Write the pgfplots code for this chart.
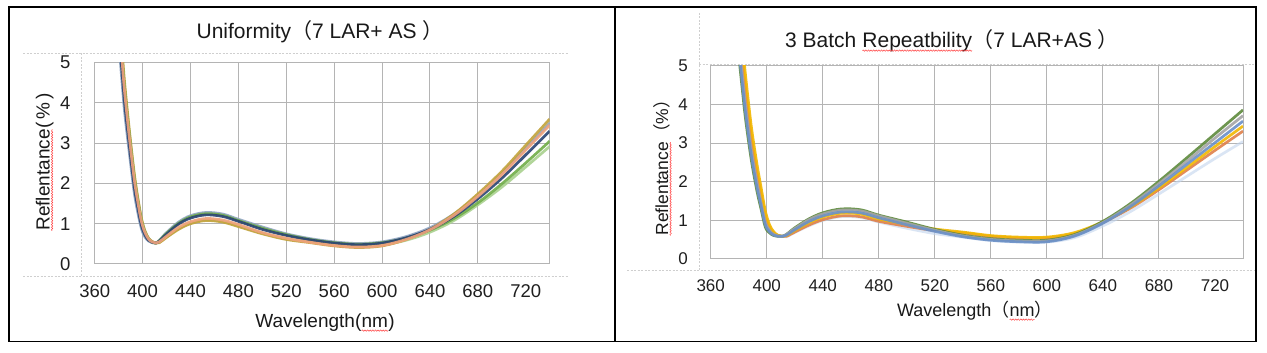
\documentclass[border=0pt]{standalone}
\usepackage{pgfplots}
\pgfplotsset{compat=1.18}
\usepackage{pgfplotstable}
\usepackage{fontspec}
\setmainfont{Liberation Sans}
\newfontfamily\cjk{Noto Sans CJK SC}
\usetikzlibrary{decorations.pathmorphing}

\definecolor{gridgray}{HTML}{B4B4B4}
\definecolor{dashgray}{HTML}{CFCFCF}
\definecolor{lgreen}{HTML}{A9D18E}
\definecolor{mgreen}{HTML}{70AD47}
\definecolor{olive}{HTML}{C2A23A}
\definecolor{grayblue}{HTML}{8EA3C2}
\definecolor{navy}{HTML}{2A4373}
\definecolor{salmon}{HTML}{F0A27C}
\definecolor{dkgreen}{HTML}{5E8A3C}
\definecolor{xgray}{HTML}{A5A5A5}
\definecolor{xblue}{HTML}{6A90C8}
\definecolor{gold}{HTML}{F2B800}
\definecolor{xorange}{HTML}{E0804A}
\definecolor{lblue}{HTML}{C2D5EE}

\newcommand\squig[1]{\tikz[baseline=(sq.base)]{\node[inner sep=0pt,outer sep=0pt](sq){#1};\draw[red!75, line width=0.5pt, decorate, decoration={snake,amplitude=0.7pt,segment length=2.6pt}] ([yshift=-2.6pt]sq.base west) -- ([yshift=-2.6pt]sq.base east);}}

\pgfplotstableread{
x     A     B     C     D     E     F
380   5.72  6.19  6.33  5.54  5.79  6.08
382.5 4.82  5.29  5.43  4.64  4.89  5.18
385   3.94  4.36  4.50  3.77  4.00  4.27
389   2.87  3.21  3.31  2.74  2.92  3.13
393   1.89  2.18  2.26  1.78  1.93  2.11
396   1.37  1.59  1.65  1.28  1.40  1.54
399   0.94  1.10  1.14  0.88  0.96  1.06
402   0.71  0.80  0.82  0.67  0.72  0.78
405   0.58  0.63  0.64  0.57  0.59  0.62
408   0.53  0.55  0.56  0.53  0.54  0.55
411   0.52  0.52  0.52  0.52  0.52  0.52
414   0.54  0.58  0.53  0.59  0.57  0.55
420   0.67  0.76  0.66  0.78  0.74  0.69
430   0.88  1.01  0.86  1.04  0.99  0.91
440   1.02  1.17  1.00  1.20  1.14  1.05
453   1.10  1.25  1.08  1.28  1.22  1.13
467   1.06  1.21  1.04  1.24  1.18  1.09
480   0.95  1.08  0.93  1.11  1.06  0.98
500   0.77  0.89  0.75  0.92  0.86  0.78
520   0.63  0.73  0.61  0.75  0.71  0.64
540   0.55  0.61  0.53  0.63  0.60  0.54
560   0.47  0.53  0.45  0.55  0.52  0.46
580   0.43  0.49  0.41  0.51  0.48  0.42
600   0.47  0.53  0.45  0.55  0.52  0.46
620   0.59  0.64  0.61  0.68  0.65  0.61
640   0.79  0.84  0.86  0.90  0.86  0.85
660   1.08  1.13  1.24  1.24  1.18  1.21
680   1.47  1.52  1.74  1.70  1.62  1.68
700   1.91  1.99  2.30  2.25  2.13  2.22
720   2.41  2.51  2.95  2.87  2.71  2.83
740   2.92  3.05  3.60  3.50  3.30  3.45
}\uniformity

\pgfplotstableread{
x     L     K     J     G     H     I
380   5.80  6.15  6.50  5.28  5.63  5.45
382.5 4.93  5.28  5.63  4.41  4.76  4.58
385   4.07  4.39  4.71  3.59  3.91  3.75
389   2.93  3.18  3.43  2.56  2.81  2.68
393   2.06  2.26  2.46  1.76  1.96  1.86
396   1.52  1.68  1.84  1.28  1.44  1.36
399   1.00  1.12  1.24  0.82  0.94  0.88
402   0.76  0.82  0.88  0.67  0.73  0.70
405   0.64  0.67  0.70  0.60  0.63  0.61
408   0.59  0.60  0.61  0.58  0.59  0.58
411   0.58  0.58  0.58  0.58  0.58  0.58
414   0.57  0.58  0.60  0.63  0.63  0.61
420   0.68  0.69  0.73  0.80  0.78  0.75
430   0.85  0.87  0.93  1.03  1.01  0.96
440   0.99  1.01  1.08  1.19  1.16  1.11
453   1.09  1.11  1.18  1.29  1.26  1.21
467   1.07  1.09  1.16  1.27  1.24  1.19
480   0.95  0.97  1.03  1.13  1.11  1.06
500   0.79  0.84  0.89  0.95  0.92  0.88
520   0.65  0.73  0.77  0.76  0.74  0.71
540   0.56  0.67  0.69  0.61  0.59  0.57
560   0.47  0.58  0.60  0.52  0.50  0.48
580   0.43  0.54  0.56  0.48  0.46  0.44
600   0.43  0.54  0.56  0.48  0.46  0.44
620   0.55  0.65  0.68  0.63  0.61  0.59
640   0.85  0.94  0.96  0.97  0.94  0.92
660   1.23  1.32  1.35  1.44  1.40  1.36
680   1.68  1.79  1.84  2.01  1.95  1.89
700   2.14  2.30  2.37  2.62  2.53  2.45
720   2.60  2.81  2.91  3.24  3.13  3.01
740   3.04  3.31  3.44  3.86  3.71  3.57
}\repeatab

\pgfplotsset{
  refl/.style={
    anchor=south west, scale only axis,
    xmin=360, xmax=740, ymin=0, ymax=5,
    xtick={360,400,...,680}, extra x ticks={720}, extra x tick style={grid=none},
    ytick={0,1,2,3,4,5},
    grid=major, major grid style={draw=gridgray, line width=1pt},
    axis line style={draw=gridgray, line width=1pt},
    major tick length=0pt,
    /pgf/number format/assume math mode=true,
    xticklabel style={anchor=north, inner sep=0pt},
    yticklabel style={anchor=east, inner sep=0pt},
    clip=true,
    every axis plot/.append style={line width=2.7pt, smooth, tension=0.55, no marks, opacity=0.9},
  }
}

\begin{document}
\begin{tikzpicture}
\useasboundingbox (0pt,0pt) rectangle (1267pt,353pt);
\fill[white] (0pt,0pt) rectangle (1267pt,353pt);

% chart-area dashed guides
\begin{scope}[draw=dashgray, line width=0.8pt, dash pattern=on 2pt off 1.5pt]
\draw (23pt,299.7pt) -- (568pt,299.7pt);
\draw (23pt,76.3pt) -- (568pt,76.3pt);
\draw (81.3pt,299.7pt) -- (81.3pt,76.3pt);
\draw (699pt,288.5pt) -- (1256pt,288.5pt);
\draw (627pt,82.3pt) -- (1256pt,82.3pt);
\draw (699.3pt,340pt) -- (699.3pt,82.3pt);
\end{scope}

% left chart
\begin{axis}[refl, at={(94.7pt,89pt)}, width=455pt, height=201.3pt,
  tick label style={font=\fontsize{18.5}{20}\selectfont, text=black!88},
  xticklabel style={yshift=-20pt},
  yticklabel style={xshift=-24pt}]
\addplot[color=lgreen] table[x=x,y=A]{\uniformity};
\addplot[color=grayblue] table[x=x,y=D]{\uniformity};
\addplot[color=olive] table[x=x,y=C]{\uniformity};
\addplot[color=mgreen] table[x=x,y=B]{\uniformity};
\addplot[color=navy] table[x=x,y=E]{\uniformity};
\addplot[color=salmon] table[x=x,y=F]{\uniformity};
\end{axis}

% right chart
\begin{axis}[refl, at={(710.7pt,94.3pt)}, width=532.3pt, height=192.7pt,
  tick label style={font=\fontsize{17}{19}\selectfont, text=black!88},
  xticklabel style={yshift=-21pt},
  yticklabel style={xshift=-22.7pt}]
\addplot[color=lblue, opacity=0.6] table[x=x,y=L]{\repeatab};
\addplot[color=xorange] table[x=x,y=K]{\repeatab};
\addplot[color=gold] table[x=x,y=J]{\repeatab};
\addplot[color=dkgreen] table[x=x,y=G]{\repeatab};
\addplot[color=xgray] table[x=x,y=H]{\repeatab};
\addplot[color=xblue] table[x=x,y=I]{\repeatab};
\end{axis}

% titles and labels
\node[anchor=base, inner sep=0pt, font=\fontsize{21}{24}\selectfont, text=black!90] at (320pt,314.5pt)
  {Uniformity{\cjk （}7 LAR+ AS {\cjk ）}};
\node[anchor=base, inner sep=0pt, font=\fontsize{21}{24}\selectfont, text=black!90] at (952pt,305pt)
  {3 Batch \squig{Repeatbility}{\cjk （}7 LAR+AS {\cjk ）}};

\node[anchor=base, inner sep=0pt, rotate=90, font=\fontsize{19}{22}\selectfont, text=black!90] at (49.5pt,191pt)
  {\squig{Reflentance}(\,\%\,)};
\node[anchor=base, inner sep=0pt, rotate=90, font=\fontsize{17.5}{20}\selectfont, text=black!90] at (668pt,189.5pt)
  {\squig{Reflentance}{\cjk （}\%{\cjk ）}};

\node[anchor=base, inner sep=0pt, font=\fontsize{19}{22}\selectfont, text=black!90] at (325pt,25pt)
  {Wavelength(\squig{nm})};
\node[anchor=base, inner sep=0pt, font=\fontsize{18}{21}\selectfont, text=black!90] at (975pt,36pt)
  {Wavelength{\cjk （}\squig{nm}{\cjk ）}};

% frames
\draw[line width=1.5pt] (9pt,11.5pt) rectangle (1256pt,346pt);
\draw[line width=1.5pt] (615pt,11.5pt) -- (615pt,346pt);
\end{tikzpicture}
\end{document}
